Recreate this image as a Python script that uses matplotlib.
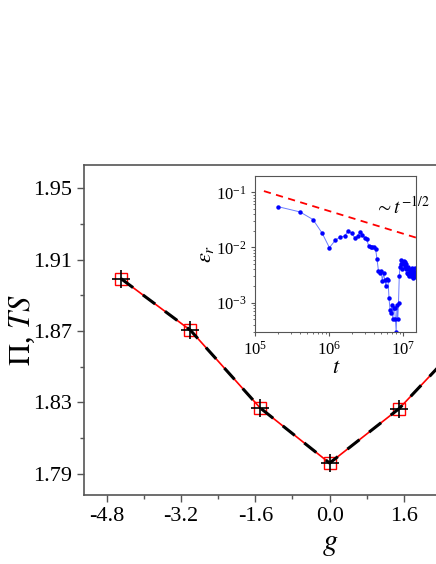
import matplotlib
matplotlib.use("Agg")
import matplotlib.pyplot as plt
from matplotlib.ticker import MultipleLocator, LogLocator, NullFormatter, FixedLocator

plt.rcParams['font.family'] = ['Liberation Serif', 'DejaVu Serif']
plt.rcParams['mathtext.fontset'] = 'stix'

g = [-4.5, -3.0, -1.5, 0.0, 1.5, 3.0]
pi_vals = [1.8995, 1.8705, 1.827, 1.796, 1.8266, 1.868]
ts_vals = [1.8995, 1.8705, 1.827, 1.796, 1.8266, 1.868]
g_ticks = [-4.8, -3.2, -1.6, 0.0, 1.6]

t_vals = [2e5, 4e5, 6e5, 8e5, 1.0e6, 1.2e6, 1.4e6, 1.6e6, 1.8e6, 2.0e6, 2.2e6, 2.4e6,
          2.6e6, 2.8e6, 3.0e6, 3.2e6, 3.4e6, 3.6e6, 3.8e6, 4.0e6, 4.2e6, 4.4e6, 4.6e6,
          4.8e6, 5.0e6, 5.2e6, 5.4e6, 5.6e6, 5.8e6, 6.0e6, 6.2e6, 6.4e6, 6.6e6, 6.8e6,
          7.0e6, 7.2e6, 7.4e6, 7.6e6, 7.8e6, 8.0e6, 8.2e6, 8.4e6, 8.6e6, 8.8e6, 9.0e6,
          9.2e6, 9.4e6, 9.6e6, 9.8e6, 1.0e7, 1.02e7, 1.04e7, 1.06e7, 1.08e7, 1.1e7,
          1.12e7, 1.14e7, 1.16e7, 1.18e7, 1.2e7, 1.22e7, 1.24e7, 1.26e7, 1.28e7, 1.3e7,
          1.32e7, 1.34e7, 1.36e7, 1.38e7, 1.4e7, 1.42e7, 1.44e7, 1.46e7, 1.48e7]
eps_vals = [0.055, 0.044, 0.032, 0.018, 0.0099, 0.0135, 0.0155, 0.016, 0.020, 0.018,
            0.015, 0.016, 0.019, 0.017, 0.015, 0.014, 0.0105, 0.010, 0.010, 0.010,
            0.0095, 0.0062, 0.0038, 0.0035, 0.0038, 0.0025, 0.0034, 0.0026, 0.0020,
            0.0027, 0.0026, 0.0012, 0.00075, 0.00065, 0.0009, 0.0005, 0.0008, 0.0008,
            0.0005, 0.0003, 0.0009, 0.0005, 0.001, 0.003, 0.0045, 0.006, 0.005, 0.004,
            0.0055, 0.005, 0.0058, 0.0045, 0.0055, 0.004, 0.005, 0.0035, 0.0045,
            0.0033, 0.004, 0.003, 0.0038, 0.0032, 0.0035, 0.003, 0.0042, 0.0033,
            0.0028, 0.0038, 0.003, 0.0036, 0.0032, 0.0042, 0.0029, 0.0035]
fit_t = [1.3e5, 1.5e7]
fit_eps = [0.105, 0.015]

spine_c = '#555555'
fig = plt.figure(figsize=(4.36, 5.64), dpi=100)
ax = fig.add_axes([0.193, 0.122, 1.126, 0.585])
ax.plot(g, pi_vals, color='red', lw=1.2, marker='s', ms=8, mfc='none', mec='red', mew=1.0, zorder=2)
ax.plot(g, ts_vals, color='black', lw=2.2, ls=(0, (5, 4)), marker='+', ms=13, mew=1.2, zorder=3)
ax.set_xlim(-5.29, 5.29)
ax.set_ylim(1.778, 1.963)
ax.xaxis.set_major_locator(FixedLocator(g_ticks))
ax.xaxis.set_minor_locator(MultipleLocator(0.8))
ax.yaxis.set_major_locator(FixedLocator([1.79, 1.83, 1.87, 1.91, 1.95]))
ax.yaxis.set_minor_locator(FixedLocator([1.81, 1.85, 1.89, 1.93]))
ax.xaxis.set_major_formatter(matplotlib.ticker.FormatStrFormatter('%.1f'))
ax.tick_params(which='major', length=5, width=1, color=spine_c, labelsize=16)
ax.tick_params(which='minor', length=3, width=1, color=spine_c)
for s in ax.spines.values():
    s.set_color(spine_c); s.set_linewidth(1.2)
fig.text(330/436, 1 - 543/564, '$g$', fontsize=22, ha='center', va='center')
fig.text(22/436, 1 - 330/564, r'$\Pi$, $TS$', fontsize=22, ha='center', va='center', rotation=90)

ins = fig.add_axes([0.586, 0.412, 0.369, 0.276])
ins.plot(t_vals, eps_vals, color='#6a7cff', lw=0.7, marker='o', ms=2.2, mfc='blue', mec='blue')
ins.plot(fit_t, fit_eps, color='red', lw=1.3, ls=(0, (4, 3)))
ins.set_xscale('log'); ins.set_yscale('log')
ins.set_xlim(1e5, 1.5e7)
ins.set_ylim(10**-3.525, 10**-0.705)
ins.xaxis.set_major_locator(LogLocator(base=10, numticks=10))
ins.yaxis.set_major_locator(LogLocator(base=10, numticks=10))
ins.xaxis.set_minor_locator(LogLocator(base=10, subs=range(2, 10), numticks=20))
ins.yaxis.set_minor_locator(LogLocator(base=10, subs=range(2, 10), numticks=20))
ins.xaxis.set_minor_formatter(NullFormatter()); ins.yaxis.set_minor_formatter(NullFormatter())
ins.tick_params(which='major', length=3, color=spine_c, labelsize=12)
ins.tick_params(which='minor', length=1.5, color=spine_c)
for s in ins.spines.values():
    s.set_color(spine_c)
ins.set_xlabel('$t$', fontsize=16, labelpad=0)
ins.set_ylabel(r'$\varepsilon_r$', fontsize=16, labelpad=0)
ins.text(0.74, 0.76, r'$\sim t^{-1/2}$', transform=ins.transAxes, fontsize=14)

fig.savefig('out.png', dpi=100)
